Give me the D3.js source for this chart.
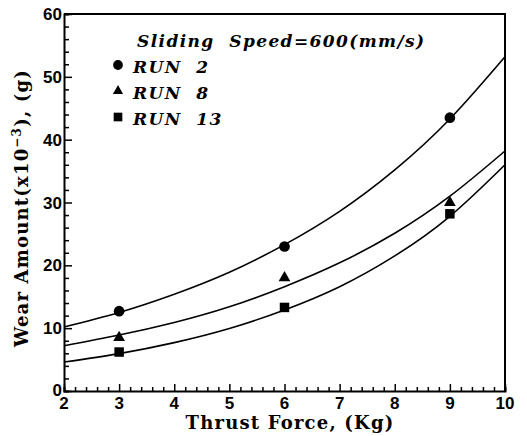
<!DOCTYPE html>
<html>
<head>
<meta charset="utf-8">
<script src="https://cdn.jsdelivr.net/npm/d3@7"></script>
<style>
  body { margin: 0; background: #fff; }
  svg { display: block; }
  .tick-label { font-family: "Liberation Sans", sans-serif; font-weight: bold; font-size: 17px; }
  .axis-title { font-family: "DejaVu Serif", serif; font-weight: bold; font-size: 18px; letter-spacing: 1.2px; }
  .legend { font-family: "DejaVu Serif", serif; font-weight: bold; font-style: italic; font-size: 17px; white-space: pre; }
</style>
</head>
<body>
<svg id="chart" width="527" height="436"></svg>
<script>
var forces = [3, 6, 9];
var run2 = [12.7, 23.0, 43.5];
var run8 = [8.5, 18.0, 30.0];
var run13 = [6.2, 13.3, 28.2];

// Fitted curves at each whole Kg from 2 to 10
var curveForces = [2, 3, 4, 5, 6, 7, 8, 9, 10];
var fit2 = [10.2, 12.5, 15.4, 18.9, 23.3, 28.6, 35.2, 43.3, 53.2];
var fit8 = [7.2, 8.9, 10.9, 13.4, 16.6, 20.4, 25.1, 31.0, 38.2];
var fit13 = [4.6, 5.95, 7.7, 9.95, 12.9, 16.6, 21.5, 27.8, 36.0];

var xTicks = [2, 3, 4, 5, 6, 7, 8, 9, 10];
var yTicks = [0, 10, 20, 30, 40, 50, 60];

var legendTitle = 'Sliding  Speed=600(mm/s)';
var legendNames = ['RUN  2', 'RUN  8', 'RUN  13'];
var symbols = [d3.symbolCircle, d3.symbolTriangle, d3.symbolSquare];

var svg = d3.select('#chart');
var plotLeft = 64, plotRight = 505, plotTop = 14, plotBottom = 391;

var x = d3.scaleLinear().domain([2, 10]).range([plotLeft, plotRight]);
var y = d3.scaleLinear().domain([0, 60]).range([plotBottom, plotTop]);

// frame: top and right sides are plain lines
svg.append('path')
  .attr('d', 'M' + plotLeft + ',' + plotTop + 'H' + plotRight + 'V' + plotBottom)
  .attr('fill', 'none')
  .attr('stroke', '#000')
  .attr('stroke-width', 2);

// left axis, ticks pointing inward
var yAxis = svg.append('g')
  .attr('transform', 'translate(' + plotLeft + ',0)')
  .call(d3.axisRight(y).tickValues(d3.range(0, 61, 2)).tickSize(5).tickFormat(''));
yAxis.selectAll('.tick line')
  .attr('x2', function(d) { return d % 10 === 0 ? 8 : 5; })
  .attr('stroke-width', 1.5);
yAxis.select('.domain').attr('stroke-width', 2);

// bottom axis, ticks pointing inward
var xAxis = svg.append('g')
  .attr('transform', 'translate(0,' + plotBottom + ')')
  .call(d3.axisTop(x).tickValues(d3.range(2, 10.01, 0.2)).tickSize(4).tickFormat(''));
xAxis.selectAll('.tick line')
  .attr('y2', function(d) { return Math.abs(d - Math.round(d)) < 0.01 ? -7 : -4; })
  .attr('stroke-width', 1.5);
xAxis.select('.domain').attr('stroke-width', 2);

// tick labels
svg.selectAll('.ylab')
  .data(yTicks)
  .enter().append('text')
    .attr('class', 'tick-label')
    .attr('x', plotLeft - 2)
    .attr('y', function(d) { return y(d) + (d === 0 ? 5 : 6); })
    .attr('text-anchor', 'end')
    .text(function(d) { return d; });

svg.selectAll('.xlab')
  .data(xTicks)
  .enter().append('text')
    .attr('class', 'tick-label')
    .attr('x', function(d) { return x(d); })
    .attr('y', plotBottom + 18)
    .attr('text-anchor', 'middle')
    .text(function(d) { return d; });

// axis titles
svg.append('text')
  .attr('class', 'axis-title')
  .attr('x', 290)
  .attr('y', 429)
  .attr('text-anchor', 'middle')
  .text('Thrust Force, (Kg)');

var yTitle = svg.append('text')
  .attr('class', 'axis-title')
  .attr('transform', 'translate(28,208) rotate(-90)')
  .attr('text-anchor', 'middle');
yTitle.append('tspan').text('Wear Amount(x10');
yTitle.append('tspan').attr('baseline-shift', 'super').attr('font-size', '12px').text('\u22123');
yTitle.append('tspan').text('), (g)');

// fitted curves
var line = d3.line()
  .x(function(d) { return x(d[0]); })
  .y(function(d) { return y(d[1]); })
  .curve(d3.curveNatural);

[fit2, fit8, fit13].forEach(function(fit) {
  svg.append('path')
    .datum(d3.zip(curveForces, fit))
    .attr('d', line)
    .attr('fill', 'none')
    .attr('stroke', '#000')
    .attr('stroke-width', 1.6);
});

// measured points
[run2, run8, run13].forEach(function(run, i) {
  svg.selectAll('.pt' + i)
    .data(d3.zip(forces, run))
    .enter().append('path')
      .attr('transform', function(d) { return 'translate(' + x(d[0]) + ',' + y(d[1]) + ')'; })
      .attr('d', d3.symbol().type(symbols[i]).size(i === 1 ? 60 : 90))
      .attr('fill', '#000');
});

// legend
svg.append('text')
  .attr('class', 'legend')
  .attr('x', 137)
  .attr('y', 47)
  .attr('letter-spacing', 1.4)
  .text(legendTitle);

legendNames.forEach(function(name, i) {
  var ly = 65 + i * 26;
  svg.append('path')
    .attr('transform', 'translate(118,' + ly + ')')
    .attr('d', d3.symbol().type(symbols[i]).size(i === 1 ? 45 : 75))
    .attr('fill', '#000');
  svg.append('text')
    .attr('class', 'legend')
    .attr('x', 133)
    .attr('y', ly + 8)
    .attr('letter-spacing', 1.4)
    .text(name);
});
</script>
</body>
</html>
